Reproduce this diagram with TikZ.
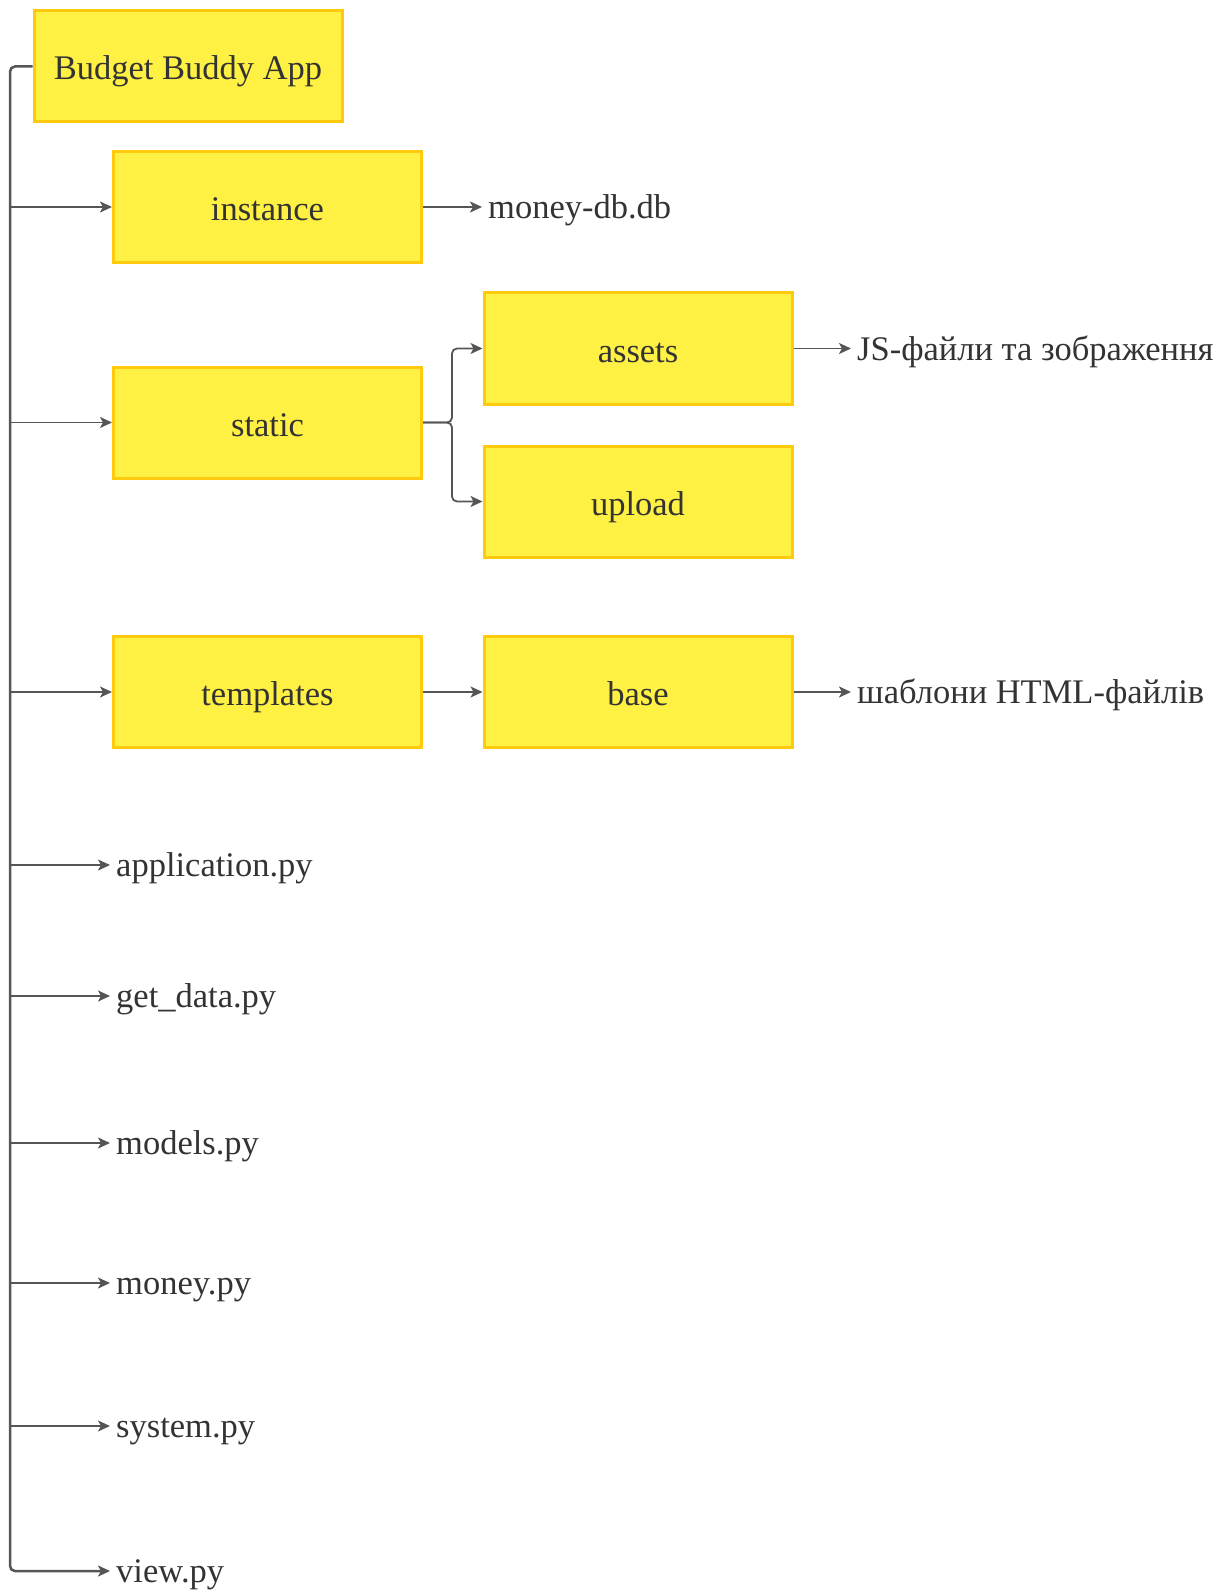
\documentclass[tikz,border=0pt]{standalone}
\usepackage{fontspec}
\setmainfont{Liberation Serif}
\usetikzlibrary{arrows.meta}
\definecolor{boxfill}{HTML}{FFF143}
\definecolor{boxedge}{HTML}{FFC90E}
\definecolor{ink}{HTML}{333333}
\definecolor{wire}{HTML}{555555}
\begin{document}
\begin{tikzpicture}[x=1pt,y=-1pt,
  label font/.style={font=\fontsize{34.5}{40}\selectfont, text=ink, text height=31pt, text depth=8pt},
  folder/.style={label font, text height=35pt, draw=boxedge, fill=boxfill, line width=3pt,
    minimum width=308pt, minimum height=111pt, inner sep=0pt},
  leaf/.style={label font, anchor=west, inner xsep=6pt, inner ysep=0pt},
  tip/.style={-{Stealth[length=12pt,width=11pt,inset=3pt]}},
  link/.style={draw=wire, line width=1.8pt, tip},
  trunk/.style={draw=wire, line width=2.5pt, rounded corners=5pt, tip}]
\useasboundingbox (0,0) rectangle (1231,1594);

% folders
\node[folder] (app)    at (188,66.5)   {Budget Buddy App};
\node[folder] (inst)   at (267.5,207)  {instance};
\node[folder] (static) at (267.5,422.5){static};
\node[folder] (assets) at (638,348.5)  {assets};
\node[folder] (upload) at (638,501.5)  {upload};
\node[folder] (templ)  at (267.5,692)  {templates};
\node[folder] (base)   at (638,692)    {base};

% files and descriptions
\node[leaf] (db)   at (482,207)   {money-db.db};
\node[leaf] (js)   at (851,348.5) {JS-файли та зображення};
\node[leaf] (html) at (851,692)   {шаблони HTML-файлів};
\node[leaf] (appl) at (110,865)   {application.py};
\node[leaf] (getd) at (110,996)   {get\_data.py};
\node[leaf] (mods) at (110,1143)  {models.py};
\node[leaf] (mony) at (110,1283)  {money.py};
\node[leaf] (syst) at (110,1426)  {system.py};
\node[leaf] (view) at (110,1571)  {view.py};

% main spine
\coordinate (spine) at (10,0);
\draw[trunk] (app.west) -| (spine |- view.west) -- (view.west);
\foreach \t in {inst,static,templ,appl,getd,mods,mony,syst}
  \draw[link] (spine |- \t.west) -- (\t.west);

% sub-branches
\coordinate (split) at (452,422.5);
\draw[link, rounded corners=5pt] (static.east) -- (split) |- (assets.west);
\draw[link, rounded corners=5pt] (static.east) -- (split) |- (upload.west);
\draw[link] (inst.east) -- (db.west);
\draw[link] (templ.east) -- (base.west);
\draw[link] (assets.east) -- (js.west);
\draw[link] (base.east) -- (html.west);
\end{tikzpicture}
\end{document}
